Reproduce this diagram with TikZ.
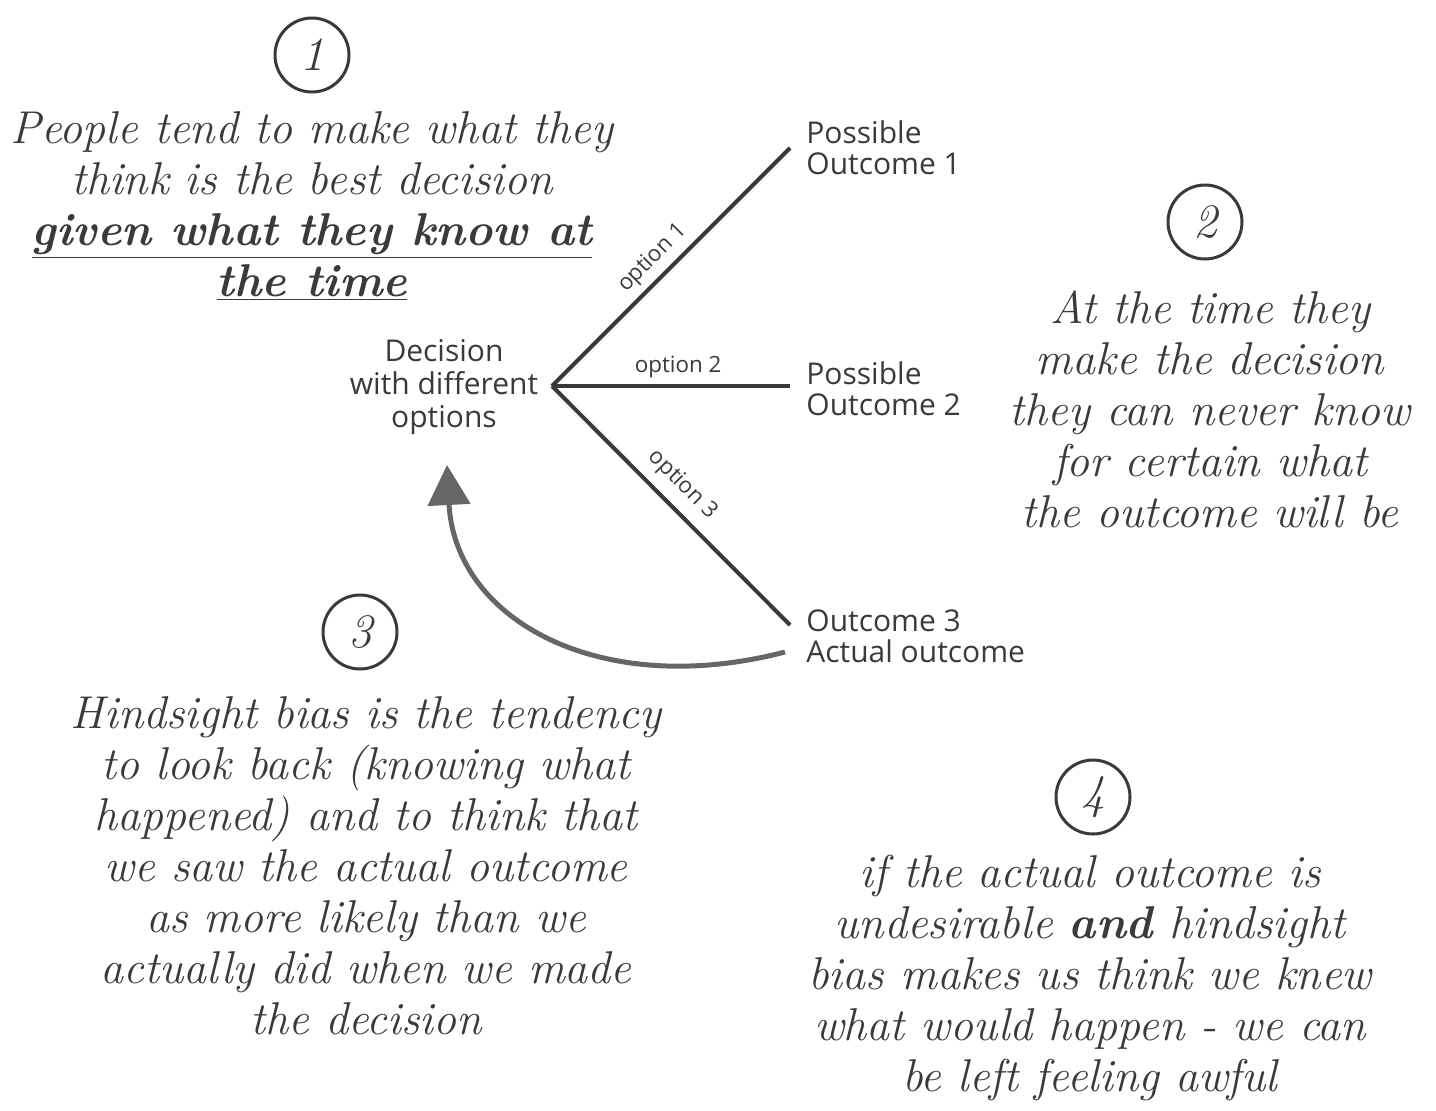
\documentclass[tikz,border=0pt]{standalone}
\usepackage{fontspec}
\newfontfamily\outfont{Open Sans}
\usetikzlibrary{arrows.meta,calc}
\definecolor{ink}{HTML}{3A3A3A}
\definecolor{arrowgray}{HTML}{666666}
\begin{document}
\begin{tikzpicture}[x=0.5pt,y=-0.5pt,
    hand/.style={font=\fontsize{23}{25.5}\selectfont\itshape, text=ink, align=center, inner sep=0pt},
    numc/.style={draw=ink, line width=1.5pt, circle, minimum size=37pt, inner sep=0pt,
        text=ink, font=\fontsize{24}{24}\selectfont\itshape},
    outc/.style={font=\outfont\fontsize{15}{15.5}\selectfont, text=ink, align=left, anchor=west,
        inner xsep=8pt, inner ysep=0pt},
    branch/.style={draw=ink, line width=2pt},
    optlbl/.style={font=\outfont\fontsize{11.2}{12}\selectfont, text=ink, inner sep=2pt},
    back/.style={draw=arrowgray, line width=2.5pt, -{Triangle[length=20pt,width=21pt]}}]
    \useasboundingbox (0,0) rectangle (1436,1110);

    % Schritt 1
    \node [numc] (n1) at (312,55) {1};
    \node [hand] (t1) at (312,206) {People tend to make what they\\
        think is the best decision\\
        \underline{\bfseries given what they know at}\\
        \underline{\bfseries the time}};

    % Entscheidung und Optionen
    \node [font=\outfont\fontsize{15}{16.5}\selectfont, text=ink, align=center] (dec) at (444,387)
        {Decision\\ with different\\ options};
    \coordinate (fork) at (552,386);
    \node [outc] (out1) at (790,148) {Possible\\ Outcome 1};
    \node [outc] (out2) at (790,389) {Possible\\ Outcome 2};
    \node [outc] (out3) at (790,636) {Outcome 3\\ Actual outcome};
    \draw [branch] (fork) -- (out1.west) node [optlbl, pos=0.48, above=1pt, sloped] {option 1};
    \draw [branch] (fork) -- ($(out2.west)+(0,-3)$) node [optlbl, pos=0.53, above=1pt] {option 2};
    \draw [branch] (fork) -- ($(out3.west)+(0,-11)$) node [optlbl, pos=0.48, above=3pt, sloped] {option 3};

    % Rueckblick
    \coordinate (tip) at (447,465);
    \draw [back] ($(out3.west)+(-5,16)$) .. controls (600,700) and (455,620) .. (tip);

    % Schritt 2
    \node [numc] (n2) at (1205,222) {2};
    \node [hand] (t2) at (1210,409) {At the time they\\
        make the decision\\
        they can never know\\
        for certain what\\
        the outcome will be};

    % Schritt 3
    \node [numc] (n3) at (360,632) {3};
    \node [hand] (t3) at (366,866) {Hindsight bias is the tendency\\
        to look back (knowing what\\
        happened) and to think that\\
        we saw the actual outcome\\
        as more likely than we\\
        actually did when we made\\
        the decision};

    % Schritt 4
    \node [numc] (n4) at (1093,797) {4};
    \node [hand] (t4) at (1090,978) {if the actual outcome is\\
        undesirable {\bfseries and} hindsight\\
        bias makes us think we knew\\
        what would happen - we can\\
        be left feeling awful};
\end{tikzpicture}
\end{document}
